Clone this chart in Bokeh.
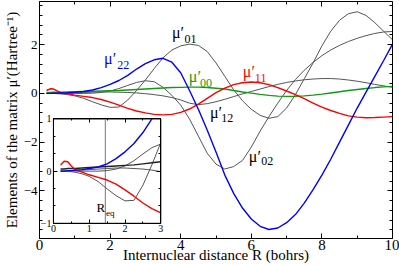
from bokeh.plotting import figure
from bokeh.models import Range1d, LinearAxis, SingleIntervalTicker, Label, CustomJSTickFormatter
from bokeh.embed import file_html
from bokeh.resources import INLINE

# ---------------- data ----------------
R = [0.2, 0.3, 0.4, 0.5, 0.6, 0.8, 1.0, 1.25, 1.5, 1.75, 2.0, 2.25, 2.5, 2.75, 3.0,
     3.25, 3.5, 3.75, 4.0, 4.25, 4.5, 4.75, 5.0, 5.25, 5.5, 5.75, 6.0, 6.25, 6.5,
     6.75, 7.0, 7.25, 7.5, 7.75, 8.0, 8.25, 8.5, 8.75, 9.0, 9.25, 9.5, 9.75, 10.0]

mu22 = [0.0, 0.0, 0.01, 0.01, 0.02, 0.03, 0.05, 0.08, 0.14, 0.24, 0.37, 0.53, 0.74, 1.0, 1.22,
        1.38, 1.44, 1.28, 0.85, 0.12, -0.65, -1.5, -2.4, -3.35, -4.1, -4.7, -5.15, -5.45, -5.58,
        -5.52, -5.3, -4.97, -4.5, -3.95, -3.35, -2.7, -2.0, -1.3, -0.6, 0.05, 0.7, 1.35, 2.02]

mu11 = [0.12, 0.19, 0.18, 0.1, 0.03, -0.02, -0.07, -0.12, -0.17, -0.25, -0.36, -0.48, -0.61, -0.72, -0.8,
        -0.86, -0.88, -0.86, -0.78, -0.64, -0.44, -0.2, 0.03, 0.22, 0.36, 0.44, 0.47, 0.44, 0.36,
        0.24, 0.1, -0.05, -0.21, -0.4, -0.56, -0.7, -0.82, -0.92, -0.97, -1.0, -0.99, -0.97, -0.95]

mu00 = [0.04, 0.04, 0.05, 0.05, 0.05, 0.06, 0.07, 0.08, 0.09, 0.1, 0.11, 0.12, 0.14, 0.16, 0.18,
        0.2, 0.22, 0.24, 0.25, 0.26, 0.26, 0.24, 0.21, 0.18, 0.12, 0.06, 0.01, -0.04, -0.08,
        -0.11, -0.12, -0.12, -0.1, -0.07, -0.03, 0.02, 0.07, 0.12, 0.16, 0.2, 0.24, 0.27, 0.29]

mu12 = [0.0, 0.0, 0.0, 0.01, 0.01, 0.02, 0.03, 0.04, 0.05, 0.06, 0.06, 0.05, 0.04, 0.02, -0.01,
        -0.05, -0.1, -0.17, -0.27, -0.4, -0.46, -0.42, -0.34, -0.24, -0.13, -0.02, 0.08, 0.18, 0.28,
        0.37, 0.45, 0.51, 0.56, 0.59, 0.61, 0.61, 0.59, 0.55, 0.5, 0.44, 0.37, 0.31, 0.25]

mu01 = [0.0, 0.0, 0.0, -0.01, -0.02, -0.05, -0.1, -0.2, -0.34, -0.47, -0.57, -0.56, -0.27, 0.12, 0.55,
        1.02, 1.46, 1.78, 1.95, 2.02, 1.97, 1.72, 1.25, 0.7, 0.15, -0.3, -0.65, -0.9, -1.02,
        -0.95, -0.6, -0.05, 0.6, 1.25, 1.95, 2.55, 3.0, 3.27, 3.35, 3.2, 2.9, 2.55, 2.2]

mu02 = [0.0, 0.0, 0.0, 0.0, 0.0, 0.0, 0.0, 0.0, 0.01, 0.04, 0.1, 0.2, 0.33, 0.45, 0.52,
        0.48, 0.25, -0.08, -0.48, -1.05, -1.75, -2.45, -2.9, -3.1, -3.0, -2.75, -2.2, -1.55, -0.95,
        -0.4, 0.12, 0.57, 0.95, 1.27, 1.55, 1.78, 1.97, 2.13, 2.26, 2.37, 2.46, 2.52, 2.54]

R_eq = 1.45

X_RANGE = (0, 10)
Y_RANGE = (-5.95, 3.77)
INSET_X = (0, 3)
INSET_Y = (-1, 1)

FONT = "Liberation Serif"
BLUE, RED, GREEN, GREY, DARK = "#0000ff", "#ff0000", "#129a12", "#555555", "#222222"

# ---------------- figure ----------------
p = figure(width=399, height=265, output_backend="svg", toolbar_location=None,
           x_range=Range1d(*X_RANGE), y_range=Range1d(*Y_RANGE),
           x_axis_label="Internuclear distance R (bohrs)",
           y_axis_label="Elements of the matrix μ′(Hartree⁻¹)",
           min_border_top=1, min_border_right=7, min_border_left=0, min_border_bottom=0)
p.grid.visible = False
p.outline_line_color = "black"
p.outline_line_width = 1
p.background_fill_color = "white"
p.border_fill_color = "white"


def style_axis(ax, size, major=5, minor=3):
    ax.major_tick_in = major
    ax.major_tick_out = 0
    ax.minor_tick_in = minor
    ax.minor_tick_out = 0
    ax.major_label_text_font = FONT
    ax.major_label_text_font_size = size
    ax.major_label_text_color = "black"
    ax.axis_label_text_font = FONT
    ax.axis_label_text_font_style = "normal"
    ax.axis_label_text_font_size = "15px"
    ax.axis_label_text_color = "black"
    ax.axis_line_color = "black"
    ax.major_tick_line_color = "black"
    ax.minor_tick_line_color = "black"


xa = p.xaxis[0]
ya = p.yaxis[0]
xa.ticker = SingleIntervalTicker(interval=2, num_minor_ticks=2)
ya.ticker = SingleIntervalTicker(interval=2, num_minor_ticks=5)
style_axis(xa, "15px")
style_axis(ya, "13px")
xa.major_label_standoff = 1
xa.axis_label_standoff = -6
ya.major_label_standoff = 2
ya.axis_label_standoff = 1

blank = CustomJSTickFormatter(code="return ''")
rax = LinearAxis(ticker=SingleIntervalTicker(interval=2, num_minor_ticks=5),
                 formatter=blank, fixed_location=X_RANGE[1])
style_axis(rax, "10px")
p.add_layout(rax, "right")
tax = LinearAxis(ticker=SingleIntervalTicker(interval=2, num_minor_ticks=2),
                 formatter=blank, fixed_location=Y_RANGE[1])
style_axis(tax, "10px")
p.add_layout(tax, "above")

# ---------------- main curves ----------------
for ys in (mu02, mu12, mu01):
    p.line(R, ys, line_color=GREY, line_width=1.0)
p.line(R, mu00, line_color=GREEN, line_width=1.4)
p.line(R, mu11, line_color=RED, line_width=1.4)
p.line(R, mu22, line_color=BLUE, line_width=1.4)

# ---------------- curve labels ----------------
labels = [
    ("22", BLUE, (1.83, 1.44), (2.2, 1.15)),
    ("01", "black", (3.75, 2.51), (4.11, 2.24)),
    ("00", GREEN, (4.23, 0.69), (4.55, 0.44)),
    ("11", RED, (5.76, 0.9), (6.1, 0.65)),
    ("12", "black", (4.83, -0.8), (5.15, -1.0)),
    ("02", "black", (5.93, -2.58), (6.28, -2.79)),
]
for sub, col, (mx, my), (sx, sy) in labels:
    p.add_layout(Label(x=mx, y=my, text="μ′", text_font=FONT, text_font_size="16px",
                       text_color=col, text_baseline="middle", text_align="left"))
    p.add_layout(Label(x=sx, y=sy, text=sub, text_font=FONT, text_font_size="12px",
                       text_color=col, text_baseline="middle", text_align="left"))

# ---------------- inset (own ranges mapped onto a sub-region of the frame) ----------------
fx0, fx1 = 0.0394, 0.3437   # inset box as fraction of frame width
fy0, fy1 = 0.0641, 0.5043   # inset box as fraction of frame height (from bottom)
wx = (INSET_X[1] - INSET_X[0]) / (fx1 - fx0)
wy = (INSET_Y[1] - INSET_Y[0]) / (fy1 - fy0)
p.extra_x_ranges = {"inset": Range1d(INSET_X[0] - fx0 * wx, INSET_X[0] - fx0 * wx + wx)}
p.extra_y_ranges = {"inset": Range1d(INSET_Y[0] - fy0 * wy, INSET_Y[0] - fy0 * wy + wy)}
IN = dict(x_range_name="inset", y_range_name="inset")

p.quad(left=[INSET_X[0]], right=[INSET_X[1]], bottom=[INSET_Y[0]], top=[INSET_Y[1]],
       fill_color="white", line_color="black", line_width=1, **IN)

n3 = R.index(3.0) + 1
nb = R.index(2.75) + 1
p.segment(x0=[R_eq], y0=[INSET_Y[0]], x1=[R_eq], y1=[INSET_Y[1]], line_color="#777777", line_width=1, **IN)
p.line(R[:n3], mu12[:n3], line_color=GREY, line_width=1.0, **IN)
p.line(R[:n3], mu02[:n3], line_color=GREY, line_width=1.0, **IN)
p.line(R[:n3], mu01[:n3], line_color=GREY, line_width=1.0, **IN)
p.line(R[:n3], mu00[:n3], line_color=DARK, line_width=1.4, **IN)
p.line(R[:n3], mu11[:n3], line_color=RED, line_width=1.4, **IN)
p.line(R[:nb], mu22[:nb], line_color=BLUE, line_width=1.4, **IN)

ibx = LinearAxis(fixed_location=INSET_Y[0], bounds=INSET_X,
                 ticker=SingleIntervalTicker(interval=1, num_minor_ticks=2), **IN)
style_axis(ibx, "10px", major=4, minor=2)
ibx.major_label_standoff = 2
p.add_layout(ibx, "below")
ily = LinearAxis(fixed_location=INSET_X[0], bounds=INSET_Y,
                 ticker=SingleIntervalTicker(interval=1, num_minor_ticks=3), **IN)
style_axis(ily, "10px", major=4, minor=2)
ily.major_label_standoff = 2
p.add_layout(ily, "left")
irx = LinearAxis(fixed_location=INSET_X[1], bounds=INSET_Y, formatter=blank,
                 ticker=SingleIntervalTicker(interval=1, num_minor_ticks=3), **IN)
style_axis(irx, "10px", major=4, minor=2)
p.add_layout(irx, "right")
itx = LinearAxis(fixed_location=INSET_Y[1], bounds=INSET_X, formatter=blank,
                 ticker=SingleIntervalTicker(interval=1, num_minor_ticks=2), **IN)
style_axis(itx, "10px", major=4, minor=2)
p.add_layout(itx, "above")

p.add_layout(Label(x=1.2, y=-0.7, text="R", text_font=FONT, text_font_size="13px",
                   text_color="black", text_baseline="middle", text_align="left", **IN))
p.add_layout(Label(x=1.47, y=-0.8, text="eq", text_font=FONT, text_font_size="9px",
                   text_color="black", text_baseline="middle", text_align="left", **IN))

open("out.html", "w").write(file_html(p, INLINE))
